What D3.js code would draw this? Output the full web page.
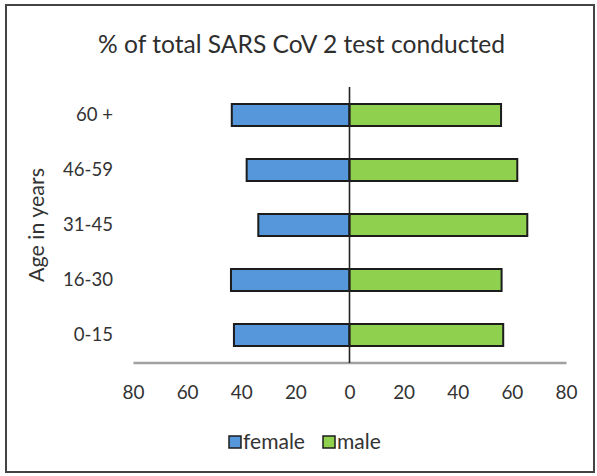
<!DOCTYPE html>
<html>
<head>
<meta charset="utf-8">
<script src="https://cdn.jsdelivr.net/npm/d3@7"></script>
<style>
  html, body { margin: 0; padding: 0; background: #fff; }
  svg { display: block; }
  text { font-family: Lato, "Open Sans", sans-serif; }
</style>
</head>
<body>
<svg id="chart" width="597" height="476"></svg>
<script>
// ---- data ----
const categories = ["0-15", "16-30", "31-45", "46-59", "60 +"];
const female = [42.7, 43.8, 33.7, 38.0, 43.5];
const male   = [56.8, 56.2, 65.7, 62.0, 56.0];
const xTicks = [-80, -60, -40, -20, 0, 20, 40, 60, 80];
const seriesNames = ["female", "male"];
const title = "% of total SARS CoV 2 test conducted";
const yTitle = "Age in years";

const colors = { female: "#5597da", male: "#8fd14f" };
const textColor = "#333";

const svg = d3.select("#chart");

// frame
svg.append("rect")
  .attr("x", 6).attr("y", 5).attr("width", 588).attr("height", 467)
  .attr("fill", "#fff").attr("stroke", "#444").attr("stroke-width", 2);

function fit(sel, target) {
  const w = sel.node().getComputedTextLength();
  const fs = parseFloat(sel.attr("font-size"));
  sel.attr("font-size", fs * target / w);
  return fs * target / w;
}

// scales
const x = d3.scaleLinear().domain([-80, 80]).range([133, 566]);
const y = d3.scaleBand().domain(categories).range([362.5, 87.5])
  .paddingInner(0.6).paddingOuter(0.3);

// title
const t = svg.append("text")
  .attr("x", 301.5).attr("y", 53).attr("text-anchor", "middle")
  .attr("font-size", 24).attr("fill", "#2e2e2e").text(title);
fit(t, 407);

// bars
const rows = categories.map((c, i) => ({ c, f: female[i], m: male[i] }));
svg.append("g").selectAll("rect.f").data(rows).join("rect")
  .attr("x", d => x(-d.f)).attr("y", d => y(d.c))
  .attr("width", d => x(0) - x(-d.f)).attr("height", y.bandwidth())
  .attr("fill", colors.female).attr("stroke", "#1c1c1c").attr("stroke-width", 2);
svg.append("g").selectAll("rect.m").data(rows).join("rect")
  .attr("x", x(0)).attr("y", d => y(d.c))
  .attr("width", d => x(d.m) - x(0)).attr("height", y.bandwidth())
  .attr("fill", colors.male).attr("stroke", "#1c1c1c").attr("stroke-width", 2);

// x axis
const xAxis = svg.append("g").attr("transform", "translate(0,362.5)")
  .call(d3.axisBottom(x).tickValues(xTicks).tickSize(0).tickPadding(23)
    .tickFormat(d => Math.abs(d)));
xAxis.select(".domain").attr("stroke", "#a0a0a0").attr("stroke-width", 2.5);
xAxis.selectAll("text").attr("font-size", 18).attr("fill", textColor)
  .attr("font-family", "Lato, 'Open Sans', sans-serif");
{
  const s = xAxis.selectAll("text").filter(d => d === -80);
  const fs = fit(s, 22);
  xAxis.selectAll("text").attr("font-size", fs);
}

// zero line
svg.append("line")
  .attr("x1", x(0)).attr("x2", x(0)).attr("y1", 87).attr("y2", 363)
  .attr("stroke", "#222").attr("stroke-width", 1.6);

// category labels
const yAxis = svg.append("g").attr("transform", "translate(113,0)")
  .call(d3.axisLeft(y).tickSize(0).tickPadding(0));
yAxis.select(".domain").remove();
yAxis.selectAll("text").attr("font-size", 18).attr("fill", textColor)
  .attr("font-family", "Lato, 'Open Sans', sans-serif");
{
  const s = yAxis.selectAll("text").filter(d => d === "46-59");
  const fs = fit(s, 50);
  yAxis.selectAll("text").attr("font-size", fs);
}

// y title
const yt = svg.append("text")
  .attr("transform", "translate(44,225) rotate(-90)")
  .attr("text-anchor", "middle").attr("font-size", 18).attr("fill", textColor)
  .text(yTitle);
fit(yt, 114);

// legend
const leg = svg.append("g");
const legX = [229, 323];
let legFs = 18;
seriesNames.forEach((n, i) => {
  leg.append("rect").attr("x", legX[i]).attr("y", 436).attr("width", 12).attr("height", 12)
    .attr("fill", colors[n]).attr("stroke", "#1c1c1c").attr("stroke-width", 1.5);
  const tx = leg.append("text").attr("x", legX[i] + 14).attr("y", 448.5)
    .attr("font-size", legFs).attr("fill", textColor).text(n);
  if (i === 0) legFs = fit(tx, 62);
  else tx.attr("font-size", legFs);
});
</script>
</body>
</html>
